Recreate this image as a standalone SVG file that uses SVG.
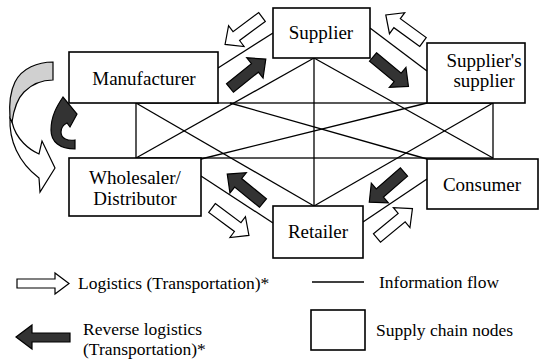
<svg xmlns="http://www.w3.org/2000/svg" width="543" height="363" viewBox="0 0 543 363">
<style>
.box{fill:#fff;stroke:#000;stroke-width:1.6}
.ln{fill:none;stroke:#000;stroke-width:1.3}
.t{font-size:19px;text-anchor:middle;fill:#000}
.lg{font-size:17.5px;fill:#000}
.wa{fill:#fff;stroke:#000;stroke-width:1.2;stroke-linejoin:miter}
.da{fill:#333;stroke:#000;stroke-width:1.2;stroke-linejoin:miter}
</style>
<defs>
<path id="arr" d="M0,-5.5 H32 V-13 L46,0 L32,13 V5.5 H0 Z"/>
</defs>
<rect width="543" height="363" fill="#fff"/>
<g id="connectors">
<rect class="ln" x="136" y="103" width="357" height="55"/>
<line class="ln" x1="218" y1="68" x2="273" y2="33"/>
<line class="ln" x1="370" y1="28" x2="427" y2="71"/>
<line class="ln" x1="314" y1="58" x2="314" y2="206"/>
<line class="ln" x1="314" y1="58" x2="136" y2="158"/>
<line class="ln" x1="314" y1="58" x2="493" y2="158"/>
<line class="ln" x1="136" y1="103" x2="314" y2="206"/>
<line class="ln" x1="493" y1="103" x2="314" y2="206"/>
<line class="ln" x1="230" y1="103" x2="427" y2="159"/>
<line class="ln" x1="201" y1="159" x2="427" y2="103"/>
<line class="ln" x1="201" y1="176" x2="273" y2="223"/>
<line class="ln" x1="427" y1="179" x2="363" y2="222"/>
</g>
<g id="arrows">
<use href="#arr" class="wa" transform="translate(262,17) rotate(143.4)"/>
<use href="#arr" class="da" transform="translate(230,88) rotate(-38.9)"/>
<use href="#arr" class="wa" transform="translate(423,42) rotate(-144)"/>
<use href="#arr" class="da" transform="translate(373,57) rotate(39.6)"/>
<use href="#arr" class="da" transform="translate(404,172) rotate(139)"/>
<use href="#arr" class="wa" transform="translate(377,238) rotate(-39.6)"/>
<use href="#arr" class="da" transform="translate(263,203) rotate(-141)"/>
<use href="#arr" class="wa" transform="translate(212,208) rotate(36.6)"/>
</g>
<g id="cycle-arrows">
<path class="wa" d="M10,118 C9,140 18,162 39,178 L40,192 L55,168 L42,141 L39,154 C30,150 16,140 12,122 Z"/>
<path fill="#d0d0d0" stroke="#000" stroke-width="1.2" d="M53,62 C38,62 22,68 15,82 C10,92 9,105 10,118 L12,122 C14,108 18,98 24,92 C32,84 42,80 53,80 Z"/>
<path class="da" d="M75,149 L75,140 C68,141 61,139 61,132 C61,128 63,125 67,123 L70,127 L77,114 L63,97 C57,106 51,116 51,130 C51,142 60,149 75,149 Z"/>
</g>
<g id="manufacturer">
<rect class="box" x="69" y="52" width="149" height="51"/>
<text class="t" font-family="Liberation Serif" x="144" y="85">Manufacturer</text>
</g>
<g id="supplier">
<rect class="box" x="273" y="8" width="97" height="50"/>
<text class="t" font-family="Liberation Serif" x="321" y="39">Supplier</text>
</g>
<g id="suppliers-supplier">
<rect class="box" x="427" y="43" width="98" height="60"/>
<text class="t" font-family="Liberation Serif" font-size="18" x="484" y="67">Supplier's</text>
<text class="t" font-family="Liberation Serif" font-size="18" x="484" y="87">supplier</text>
</g>
<g id="wholesaler">
<rect class="box" x="69" y="158" width="132" height="58"/>
<text class="t" font-family="Liberation Serif" x="135" y="184">Wholesaler/</text>
<text class="t" font-family="Liberation Serif" x="135" y="205">Distributor</text>
</g>
<g id="consumer">
<rect class="box" x="427" y="159" width="111" height="50"/>
<text class="t" font-family="Liberation Serif" x="482" y="191">Consumer</text>
</g>
<g id="retailer">
<rect class="box" x="273" y="206" width="90" height="52"/>
<text class="t" font-family="Liberation Serif" x="318" y="238">Retailer</text>
</g>
<g id="legend">
<path class="wa" d="M17,279 H55 V273 L69,283.5 L55,294 V288 H17 Z"/>
<text class="lg" font-family="Liberation Serif" x="78" y="289">Logistics (Transportation)*</text>
<line class="ln" x1="312" y1="282" x2="364" y2="282"/>
<text class="lg" font-family="Liberation Serif" x="379" y="288">Information flow</text>
<path class="da" d="M16,337 L32,325 V333 H70 V342 H32 V349 Z"/>
<text class="lg" font-family="Liberation Serif" x="83" y="335">Reverse logistics</text>
<text class="lg" font-family="Liberation Serif" x="83" y="355">(Transportation)*</text>
<rect class="box" x="311" y="310" width="54" height="40"/>
<text class="lg" font-family="Liberation Serif" x="376" y="336">Supply chain nodes</text>
</g>
</svg>
